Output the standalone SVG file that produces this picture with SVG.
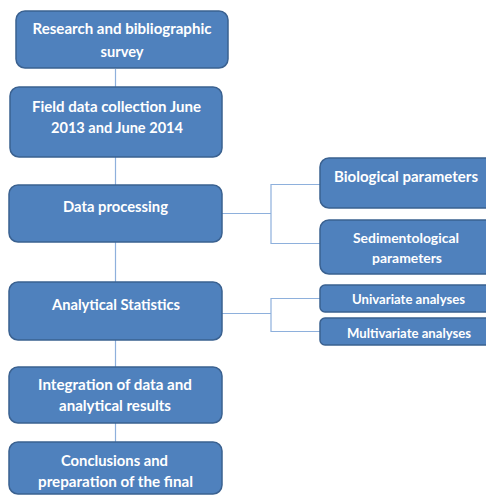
<svg xmlns="http://www.w3.org/2000/svg" width="486" height="496" viewBox="0 0 486 496">
<style>
.box{fill:#4F81BD;stroke:#3A6190;stroke-width:1.5}
.t{font-family:Lato,"Liberation Sans",sans-serif;font-weight:bold;font-size:15px;fill:#FFFFFF;text-anchor:middle}
.s{font-size:13px}
.c{fill:none;stroke:#8EB0DC;stroke-width:1.2}
</style>
<defs>
<clipPath id="clipU"><rect x="320" y="285" width="170" height="21"/></clipPath>
<clipPath id="clipM"><rect x="320" y="318" width="170" height="22"/></clipPath>
</defs>
<rect width="486" height="496" fill="#FFFFFF"/>
<g id="connectors">
<line class="c" x1="115.5" y1="69" x2="115.5" y2="442"/>
<polyline class="c" points="222,213.5 271,213.5"/>
<polyline class="c" points="320,184.5 271,184.5 271,243.5 320,243.5"/>
<polyline class="c" points="222,313.5 271,313.5"/>
<polyline class="c" points="320,298.5 271,298.5 271,331.5 320,331.5"/>
</g>
<g id="n1"><rect class="box" x="16" y="11" width="212" height="57" rx="9"/>
<text class="t" x="122" y="34" textLength="179" lengthAdjust="spacingAndGlyphs">Research and bibliographic</text>
<text class="t" x="122" y="57" textLength="43" lengthAdjust="spacingAndGlyphs">survey</text></g>
<g id="n2"><rect class="box" x="10" y="87" width="212" height="70" rx="9"/>
<text class="t" x="116.5" y="112" textLength="169" lengthAdjust="spacingAndGlyphs">Field data collection June</text>
<text class="t" x="117" y="133" textLength="132" lengthAdjust="spacingAndGlyphs">2013 and June 2014</text></g>
<g id="n3"><rect class="box" x="9" y="185" width="213" height="57" rx="9"/>
<text class="t" x="115.5" y="212" textLength="105" lengthAdjust="spacingAndGlyphs">Data processing</text></g>
<g id="n4"><rect class="box" x="9" y="282" width="213" height="58" rx="9"/>
<text class="t" x="116" y="310" textLength="128" lengthAdjust="spacingAndGlyphs">Analytical Statistics</text></g>
<g id="n5"><rect class="box" x="9" y="367" width="213" height="56" rx="9"/>
<text class="t" x="115" y="390" textLength="154" lengthAdjust="spacingAndGlyphs">Integration of data and</text>
<text class="t" x="115" y="411" textLength="112" lengthAdjust="spacingAndGlyphs">analytical results</text></g>
<g id="n6"><rect class="box" x="9" y="442" width="213" height="52" rx="9"/>
<text class="t" x="114.5" y="466" textLength="107" lengthAdjust="spacingAndGlyphs">Conclusions and</text>
<text class="t" x="115.5" y="487" textLength="155" lengthAdjust="spacingAndGlyphs">preparation of the final</text></g>
<g id="n7"><rect class="box" x="320" y="158" width="174" height="50" rx="9"/>
<text class="t" x="406" y="182" textLength="144" lengthAdjust="spacingAndGlyphs">Biological parameters</text></g>
<g id="n8"><rect class="box" x="320" y="220" width="174" height="54" rx="9"/>
<text class="t s" x="406" y="243" textLength="106" lengthAdjust="spacingAndGlyphs">Sedimentological</text>
<text class="t s" x="407" y="263" textLength="70" lengthAdjust="spacingAndGlyphs">parameters</text></g>
<g id="n9"><rect class="box" x="320" y="285" width="174" height="27" rx="5"/>
<text class="t s" x="408.5" y="304" textLength="113" lengthAdjust="spacingAndGlyphs" clip-path="url(#clipU)">Univariate analyses</text></g>
<g id="n10"><rect class="box" x="320" y="318" width="174" height="27" rx="5"/>
<text class="t s" x="409" y="338" textLength="124" lengthAdjust="spacingAndGlyphs" clip-path="url(#clipM)">Multivariate analyses</text></g>
</svg>
